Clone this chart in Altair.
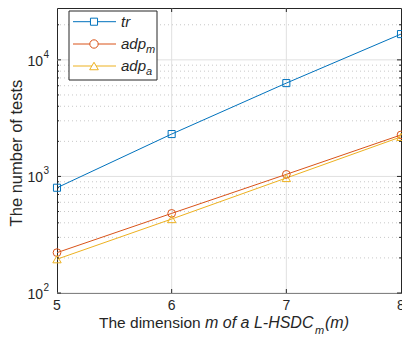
import altair as alt
import pandas as pd

# ---- data ----
dims = [5, 6, 7, 8]
tr = [800, 2310, 6320, 16640]
adp_m = [222, 482, 1042, 2270]
adp_a = [195, 431, 970, 2185]

series_names = ["tr", "adp_m", "adp_a"]
series_colors = ["#0072BD", "#D95319", "#EDB120"]
series_shapes = ["square", "circle", "triangle-up"]
series_sizes = [50, 70, 75]

major_y = [100, 1000, 10000]
major_exp = ["2", "3", "4"]
minor_y = [200, 300, 400, 500, 600, 700, 800, 900,
           2000, 3000, 4000, 5000, 6000, 7000, 8000, 9000, 20000]
x_ticks = [5, 6, 7, 8]
x_tick_labels = ["5", "6", "7", "8"]
x_inner = [6, 7]

FONT = "Liberation Sans"
INK = "#262626"
W, H = 344, 285

rows = []
for name, vals in zip(series_names, [tr, adp_m, adp_a]):
    for d, v in zip(dims, vals):
        rows.append({"m": d, "tests": v, "series": name})
df = pd.DataFrame(rows)

xs = alt.Scale(domain=[5, 8], nice=False, zero=False)
ys = alt.Scale(type="log", domain=[100, 27860], nice=False)
cs = alt.Scale(domain=series_names, range=series_colors)
ss = alt.Scale(domain=series_names, range=series_shapes)
zs = alt.Scale(domain=series_names, range=series_sizes)

one = pd.DataFrame({"k": [0]})

grid_major_y = alt.Chart(pd.DataFrame({"v": major_y})).mark_rule(
    color="#e0e0e0", strokeWidth=1
).encode(y=alt.Y("v:Q", scale=ys, axis=None))

grid_minor_y = alt.Chart(pd.DataFrame({"v": minor_y})).mark_rule(
    color="#c8c8c8", strokeWidth=1, strokeDash=[1, 3]
).encode(y=alt.Y("v:Q", scale=ys, axis=None))

grid_x = alt.Chart(pd.DataFrame({"v": x_inner})).mark_rule(
    color="#e0e0e0", strokeWidth=1
).encode(x=alt.X("v:Q", scale=xs, axis=None))

lines = alt.Chart(df).mark_line(strokeWidth=1).encode(
    x=alt.X("m:Q", scale=xs, axis=None),
    y=alt.Y("tests:Q", scale=ys, axis=None),
    color=alt.Color("series:N", scale=cs, legend=None),
    detail="series:N",
)

points = alt.Chart(df).mark_point(filled=False, strokeWidth=1, opacity=1).encode(
    x=alt.X("m:Q", scale=xs, axis=None),
    y=alt.Y("tests:Q", scale=ys, axis=None),
    color=alt.Color("series:N", scale=cs, legend=None),
    shape=alt.Shape("series:N", scale=ss, legend=None),
    size=alt.Size("series:N", scale=zs, legend=None),
)

# inward ticks
def ytick(vals, x0, x1):
    return alt.Chart(pd.DataFrame({"v": vals})).mark_rule(color=INK, strokeWidth=1).encode(
        y=alt.Y("v:Q", scale=ys, axis=None), x=alt.value(x0), x2=alt.value(x1))

def xtick(vals, y0, y1):
    return alt.Chart(pd.DataFrame({"v": vals})).mark_rule(color=INK, strokeWidth=1).encode(
        x=alt.X("v:Q", scale=xs, axis=None), y=alt.value(y0), y2=alt.value(y1))

ticks = [
    ytick(major_y, 0, 4), ytick(minor_y, 0, 2),
    ytick(major_y, W - 4, W), ytick(minor_y, W - 2, W),
    xtick(x_inner, H - 4, H), xtick(x_inner, 0, 4),
]

# tick labels (drawn through the scales)
ylab_df = pd.DataFrame({"v": major_y, "e": major_exp})
ylab_base = alt.Chart(ylab_df).mark_text(
    font=FONT, fontSize=14, color=INK, align="right", baseline="middle", dy=2
).encode(y=alt.Y("v:Q", scale=ys, axis=None), x=alt.value(-14), text=alt.value("10"))
ylab_exp = alt.Chart(ylab_df).mark_text(
    font=FONT, fontSize=10, color=INK, align="left", baseline="middle", dy=-5
).encode(y=alt.Y("v:Q", scale=ys, axis=None), x=alt.value(-13.5), text="e:N")

xlab = alt.Chart(pd.DataFrame({"v": x_ticks, "t": x_tick_labels})).mark_text(
    font=FONT, fontSize=14, color=INK, align="center", baseline="middle"
).encode(x=alt.X("v:Q", scale=xs, axis=None), y=alt.value(H + 12.5), text="t:N")

# y title
ytitle = alt.Chart(one).mark_text(
    text="The number of tests", font=FONT, fontSize=16.5, color=INK,
    angle=270, align="center", baseline="alphabetic"
).encode(x=alt.value(-35), y=alt.value(145))

# x title pieces
xt_base = 320
xtitle = [
    alt.Chart(one).mark_text(text="The dimension", font=FONT, fontSize=15.5, color=INK,
                             align="left", baseline="alphabetic").encode(x=alt.value(42), y=alt.value(xt_base)),
    alt.Chart(one).mark_text(text="m of a L-HSDC", font=FONT, fontSize=16, fontStyle="italic", color=INK,
                             align="left", baseline="alphabetic").encode(x=alt.value(148), y=alt.value(xt_base)),
    alt.Chart(one).mark_text(text="m", font=FONT, fontSize=11, fontStyle="italic", color=INK,
                             align="left", baseline="alphabetic").encode(x=alt.value(258), y=alt.value(xt_base + 6)),
    alt.Chart(one).mark_text(text="(m)", font=FONT, fontSize=16, fontStyle="italic", color=INK,
                             align="left", baseline="alphabetic").encode(x=alt.value(268), y=alt.value(xt_base)),
]

# legend
leg_rows = [13.7, 36, 58]
legend = [
    alt.Chart(one).mark_rect(fill="white", stroke=INK, strokeWidth=1).encode(
        x=alt.value(12), x2=alt.value(100), y=alt.value(3), y2=alt.value(72)),
]
leg_main = ["tr", "adp", "adp"]
leg_sub = ["", "m", "a"]
for i, name in enumerate(series_names):
    yy = leg_rows[i]
    legend.append(alt.Chart(one).mark_rule(color=series_colors[i], strokeWidth=1).encode(
        x=alt.value(16), x2=alt.value(59), y=alt.value(yy)))
    legend.append(alt.Chart(one).mark_point(
        filled=False, strokeWidth=1, opacity=1, color=series_colors[i],
        shape=series_shapes[i], size=series_sizes[i], fill="white", fillOpacity=1
    ).encode(x=alt.value(37), y=alt.value(yy)))
    legend.append(alt.Chart(one).mark_text(
        text=leg_main[i], font=FONT, fontSize=15, fontStyle="italic", color=INK,
        align="left", baseline="middle").encode(x=alt.value(64), y=alt.value(yy)))
    if leg_sub[i]:
        legend.append(alt.Chart(one).mark_text(
            text=leg_sub[i], font=FONT, fontSize=11, fontStyle="italic", color=INK,
            align="left", baseline="middle").encode(x=alt.value(89), y=alt.value(yy + 6)))

chart = alt.layer(
    grid_minor_y, grid_major_y, grid_x, lines, points, *ticks,
    ylab_base, ylab_exp, xlab, ytitle, *xtitle, *legend
).properties(
    width=W, height=H,
    autosize=alt.AutoSizeParams(type="none"),
    padding={"left": 49, "top": 0, "right": 1, "bottom": 42},
).configure_view(stroke=INK, strokeWidth=1)

chart.save("out.html", embed_options={"renderer": "svg", "actions": False})
